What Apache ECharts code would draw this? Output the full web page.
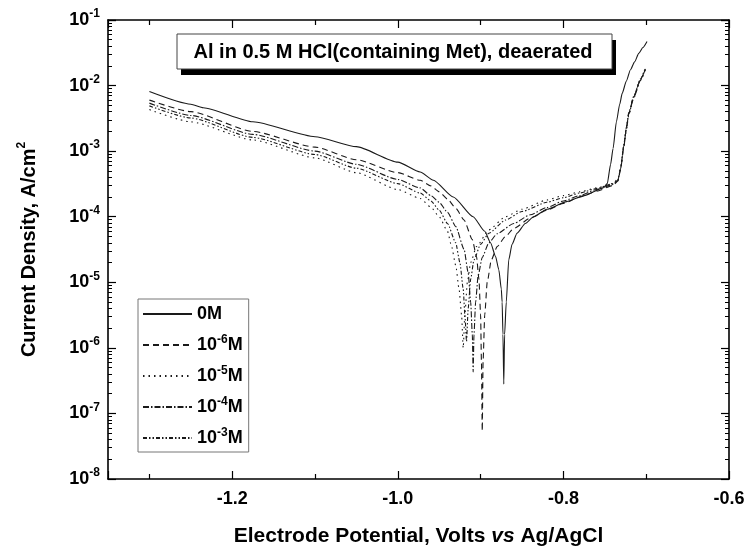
<!DOCTYPE html>
<html>
<head>
<meta charset="utf-8">
<script src="https://cdn.jsdelivr.net/npm/echarts@6/dist/echarts.min.js"></script>
<style>
  html, body { margin: 0; padding: 0; background: #fff; }
  #chart { width: 749px; height: 552px; }
</style>
</head>
<body>
<div id="chart"></div>
<script>
// potentials (V vs Ag/AgCl) and current densities (A/cm2)
const v0M = [-1.30, -1.25, -1.235, -1.175, -1.10, -1.05, -1.00, -0.973, -0.957, -0.933, -0.909, -0.895, -0.888, -0.882, -0.878, -0.875, -0.874, -0.873, -0.872, -0.871, -0.869, -0.866, -0.862, -0.856, -0.846, -0.836, -0.82, -0.796, -0.775, -0.752, -0.747, -0.743, -0.740, -0.736, -0.732, -0.729, -0.724, -0.719, -0.714, -0.709, -0.704, -0.699];
const i0M = [8.1e-3, 5.2e-3, 4.6e-3, 2.8e-3, 1.66e-3, 1.17e-3, 6.8e-4, 4.8e-4, 3.6e-4, 2.0e-4, 1.0e-4, 6.0e-5, 4.0e-5, 2.5e-5, 1.55e-5, 7.9e-6, 5.0e-6, 1.6e-6, 2.8e-7, 1.6e-6, 5.0e-6, 2.2e-5, 3.8e-5, 5.6e-5, 7.9e-5, 1.0e-4, 1.3e-4, 1.7e-4, 2.1e-4, 2.75e-4, 3.2e-4, 6.3e-4, 1.1e-3, 2.8e-3, 5.2e-3, 7.6e-3, 1.17e-2, 1.74e-2, 2.3e-2, 3.1e-2, 3.8e-2, 4.7e-2];

const v6 = [-1.30, -1.25, -1.175, -1.10, -1.05, -1.00, -0.973, -0.96, -0.95, -0.94, -0.93, -0.92, -0.91, -0.905, -0.902, -0.900, -0.899, -0.898, -0.897, -0.895, -0.892, -0.887, -0.88, -0.87, -0.86, -0.84, -0.82, -0.80, -0.78, -0.76, -0.74, -0.734, -0.731, -0.727, -0.724, -0.721, -0.715, -0.707, -0.701];
const i6 = [6.0e-3, 4.0e-3, 2.0e-3, 1.15e-3, 7.4e-4, 4.7e-4, 3.6e-4, 2.95e-4, 2.4e-4, 1.86e-4, 1.35e-4, 8.9e-5, 4.5e-5, 2.5e-5, 1.12e-5, 3.2e-6, 6.3e-7, 5.4e-8, 6.3e-7, 3.2e-6, 1.0e-5, 2.2e-5, 3.5e-5, 5.0e-5, 6.6e-5, 9.5e-5, 1.26e-4, 1.6e-4, 2.0e-4, 2.45e-4, 3.0e-4, 3.5e-4, 5.2e-4, 1.17e-3, 2.2e-3, 3.8e-3, 6.8e-3, 1.23e-2, 1.8e-2];

const v5 = [-1.30, -1.25, -1.175, -1.10, -1.05, -1.00, -0.973, -0.96, -0.95, -0.94, -0.935, -0.93, -0.926, -0.923, -0.921, -0.919, -0.916, -0.912, -0.905, -0.89, -0.87, -0.85, -0.82, -0.80, -0.78, -0.76, -0.74, -0.734, -0.731, -0.727, -0.724, -0.721, -0.715, -0.707, -0.701];
const i5 = [4.3e-3, 2.8e-3, 1.48e-3, 7.9e-4, 4.7e-4, 2.6e-4, 1.9e-4, 1.4e-4, 1.0e-4, 6.0e-5, 3.5e-5, 1.8e-5, 7.9e-6, 3.2e-6, 1.0e-6, 3.2e-6, 1.0e-5, 2.0e-5, 3.5e-5, 6.3e-5, 1.0e-4, 1.3e-4, 1.8e-4, 2.1e-4, 2.4e-4, 2.75e-4, 3.2e-4, 3.8e-4, 5.5e-4, 1.17e-3, 2.1e-3, 3.6e-3, 6.5e-3, 1.2e-2, 1.74e-2];

const v4 = [-1.30, -1.25, -1.175, -1.10, -1.05, -1.00, -0.973, -0.96, -0.95, -0.94, -0.93, -0.92, -0.915, -0.912, -0.910, -0.909, -0.908, -0.906, -0.903, -0.898, -0.89, -0.88, -0.86, -0.84, -0.82, -0.80, -0.78, -0.76, -0.74, -0.734, -0.731, -0.727, -0.724, -0.721, -0.715, -0.707, -0.701];
const i4 = [5.4e-3, 3.5e-3, 1.8e-3, 1.0e-3, 6.3e-4, 3.7e-4, 2.75e-4, 2.1e-4, 1.66e-4, 1.17e-4, 7.1e-5, 3.2e-5, 1.4e-5, 5.0e-6, 1.6e-6, 4.3e-7, 1.6e-6, 5.0e-6, 1.26e-5, 2.4e-5, 4.0e-5, 5.5e-5, 7.9e-5, 1.07e-4, 1.38e-4, 1.74e-4, 2.1e-4, 2.6e-4, 3.1e-4, 3.6e-4, 5.4e-4, 1.2e-3, 2.2e-3, 3.7e-3, 6.6e-3, 1.2e-2, 1.78e-2];

const v3 = [-1.30, -1.25, -1.175, -1.10, -1.05, -1.00, -0.973, -0.96, -0.95, -0.94, -0.93, -0.925, -0.921, -0.919, -0.917, -0.915, -0.912, -0.908, -0.90, -0.89, -0.87, -0.85, -0.82, -0.80, -0.78, -0.76, -0.74, -0.734, -0.731, -0.727, -0.724, -0.721, -0.715, -0.707, -0.701];
const i3 = [4.9e-3, 3.2e-3, 1.62e-3, 8.9e-4, 5.5e-4, 3.2e-4, 2.3e-4, 1.74e-4, 1.26e-4, 7.9e-5, 4.0e-5, 2.0e-5, 7.9e-6, 3.2e-6, 1.26e-6, 4.0e-6, 1.12e-5, 2.2e-5, 3.8e-5, 5.6e-5, 8.9e-5, 1.2e-4, 1.66e-4, 1.95e-4, 2.3e-4, 2.7e-4, 3.2e-4, 3.7e-4, 5.4e-4, 1.26e-3, 2.3e-3, 3.9e-3, 6.9e-3, 1.26e-2, 1.86e-2];

const seriesNames = ["0M", "1e-6M", "1e-5M", "1e-4M", "1e-3M"];
const legendLabels = ["0M", "10{s|-6}M", "10{s|-5}M", "10{s|-4}M", "10{s|-3}M"];
const dashTypes = ["solid", [6, 4], [1.5, 4], [6, 2, 1.5, 2], [4, 2, 1.5, 2, 1.5, 2]];
const titleText = "Al in 0.5 M HCl(containing Met), deaerated";

const FONT = '"Liberation Sans", Arial, sans-serif';
const zip = (xs, ys) => xs.map((x, k) => [x, ys[k]]);
const curves = [zip(v0M, i0M), zip(v6, i6), zip(v5, i5), zip(v4, i4), zip(v3, i3)];

const chart = echarts.init(document.getElementById("chart"), null, { renderer: "canvas" });

const supStyle = { fontFamily: FONT, fontWeight: "bold", fontSize: 12, color: "#000", lineHeight: 12, verticalAlign: "top" };

const xBase = {
  type: "value",
  min: -1.35,
  max: -0.6,
  minInterval: 0.2,
  maxInterval: 0.2,
  splitLine: { show: false },
  axisLine: { onZero: false, lineStyle: { color: "#000", width: 1.6 } },
  axisTick: { inside: true, length: 8, lineStyle: { color: "#000", width: 1.2 } },
  minorTick: { show: true, splitNumber: 2, length: 5, lineStyle: { color: "#000", width: 1.2 } },
};
const yBase = {
  type: "log",
  logBase: 10,
  min: 1e-8,
  max: 1e-1,
  splitNumber: 7,
  splitLine: { show: false },
  axisLine: { lineStyle: { color: "#000", width: 1.6 } },
  axisTick: { inside: true, length: 8, lineStyle: { color: "#000", width: 1.2 } },
  minorTick: { show: true, splitNumber: 9, length: 4, lineStyle: { color: "#000", width: 1 } },
};

const option = {
  animation: false,
  backgroundColor: "#fff",
  grid: { left: 108, right: 20, top: 20, bottom: 72 },
  xAxis: [
    Object.assign({}, xBase, {
      position: "bottom",
      name: "{a|Electrode Potential, Volts }{i|vs}{a| Ag/AgCl}",
      nameLocation: "middle",
      nameGap: 47,
      nameTextStyle: {
        rich: {
          a: { fontFamily: FONT, fontWeight: "bold", fontSize: 21, color: "#000" },
          i: { fontFamily: FONT, fontWeight: "bold", fontStyle: "italic", fontSize: 21, color: "#000" },
        },
      },
      axisLabel: {
        margin: 11,
        showMinLabel: false,
        fontFamily: FONT, fontWeight: "bold", fontSize: 18, color: "#000",
        formatter: (v) => v.toFixed(1),
      },
    }),
    Object.assign({}, xBase, { position: "top", axisLabel: { show: false } }),
  ],
  yAxis: [
    Object.assign({}, yBase, {
      position: "left",
      name: "{a|Current Density, A/cm}{s|2}",
      nameLocation: "middle",
      nameGap: 66,
      nameTextStyle: {
        rich: {
          a: { fontFamily: FONT, fontWeight: "bold", fontSize: 20, color: "#000", lineHeight: 26 },
          s: supStyle,
        },
      },
      axisLabel: {
        margin: 8,
        formatter: (v) => "{b|10}{s|" + Math.round(Math.log10(v)) + "}",
        rich: {
          b: { fontFamily: FONT, fontWeight: "bold", fontSize: 18, color: "#000", lineHeight: 24 },
          s: supStyle,
        },
      },
    }),
    Object.assign({}, yBase, { position: "right", axisLabel: { show: false } }),
  ],
  legend: {
    orient: "vertical",
    left: 138,
    top: 299,
    padding: [4, 6, 3, 4],
    itemGap: 9,
    itemWidth: 49,
    itemHeight: 14,
    borderColor: "#777",
    borderWidth: 1,
    data: seriesNames,
    itemStyle: { opacity: 0 },
    formatter: (name) => legendLabels[seriesNames.indexOf(name)],
    textStyle: {
      fontFamily: FONT, fontWeight: "bold", fontSize: 18, color: "#000", lineHeight: 22,
      rich: { s: supStyle },
    },
  },
  graphic: [
    { type: "rect", z: 10, shape: { x: 181, y: 40, width: 435, height: 35 }, style: { fill: "#000" } },
    { type: "rect", z: 11, shape: { x: 177, y: 34, width: 435, height: 35 }, style: { fill: "#fff", stroke: "#444", lineWidth: 1 } },
    {
      type: "text", z: 12, x: 393, y: 52,
      style: { text: titleText, font: "bold 20px " + FONT, fill: "#000", align: "center", verticalAlign: "middle" },
    },
  ],
  series: curves.map((d, k) => ({
    name: seriesNames[k],
    type: "line",
    data: d,
    symbol: "none",
    showSymbol: false,
    smooth: 0.2,
    smoothMonotone: "x",
    lineStyle: { color: "#1a1a1a", width: 1.1, type: dashTypes[k] },
    itemStyle: { color: "#1a1a1a" },
  })),
};

chart.setOption(option);
</script>
</body>
</html>
